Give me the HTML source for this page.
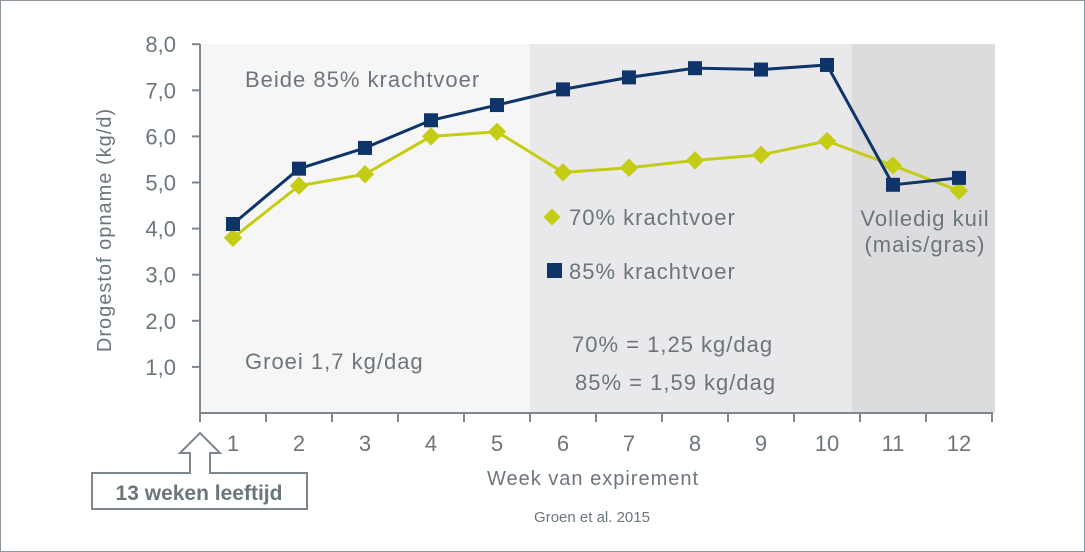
<!DOCTYPE html>
<html><head><meta charset="utf-8"><style>
body{margin:0;background:#fff}
svg{display:block;font-family:"Liberation Sans",sans-serif}
</style></head><body>
<svg width="1085" height="552" viewBox="0 0 1085 552">
<rect x="0.5" y="0.5" width="1084" height="551" fill="#fff" stroke="#8a969c"/>
<rect x="200" y="44" width="330" height="369" fill="#f6f6f7"/>
<rect x="530" y="44" width="322" height="369" fill="#e9e9eb"/>
<rect x="852" y="44" width="143" height="369" fill="#dcdcde"/>
<g id="axes" stroke="#7d878d" stroke-width="2" fill="none"></g>
<g id="ticks" fill="#6b767c" font-size="22"></g>
<g id="lines"></g>
<g font-size="22" fill="#6b767c" letter-spacing="1">
<text x="245" y="87">Beide 85% krachtvoer</text>
<text x="245" y="369">Groei 1,7 kg/dag</text>
<text x="572" y="352">70% = 1,25 kg/dag</text>
<text x="575" y="390">85% = 1,59 kg/dag</text>
<text x="925" y="226" text-anchor="middle">Volledig kuil</text>
<text x="925" y="252" text-anchor="middle">(mais/gras)</text>
</g>
<g>
<rect x="546" y="211" width="12" height="12" fill="#c5cc14" transform="rotate(45 552 217)"/>
<text x="569" y="225" font-size="22" letter-spacing="1" fill="#6b767c">70% krachtvoer</text>
<rect x="547" y="263" width="15" height="15" fill="#0e3469"/>
<text x="569" y="279" font-size="22" letter-spacing="1" fill="#6b767c">85% krachtvoer</text>
</g>
<text x="111" y="230" font-size="20" letter-spacing="1" fill="#6b767c" text-anchor="middle" transform="rotate(-90 111 230)">Drogestof opname  (kg/d)</text>
<text x="593" y="485" font-size="20" letter-spacing="1" fill="#6b767c" text-anchor="middle">Week van expirement</text>
<text x="592" y="522" font-size="15" fill="#6b767c" text-anchor="middle">Groen et al. 2015</text>
<path d="M200 433 L180 453 L190 453 L190 473 L92 473 L92 509 L307 509 L307 473 L210 473 L210 453 L220 453 Z" fill="#fff" stroke="#7d878d" stroke-width="2"/>
<text x="199" y="500" font-size="21" font-weight="bold" fill="#6b767c" text-anchor="middle">13 weken leeftijd</text>
</svg>
<script>
const weeks=[1,2,3,4,5,6,7,8,9,10,11,12];
const s85=[4.1,5.3,5.75,6.35,6.68,7.02,7.28,7.48,7.45,7.55,4.95,5.1];
const s70=[3.8,4.93,5.18,6.0,6.1,5.22,5.32,5.48,5.6,5.9,5.37,4.82];
const yTicks=[1,2,3,4,5,6,7,8];
const yLabels=["1,0","2,0","3,0","4,0","5,0","6,0","7,0","8,0"];
const NS="http://www.w3.org/2000/svg";
const X=w=>200+(w-0.5)*66;
const Y=v=>413-v*46.1;
function mk(t,a,p){const e=document.createElementNS(NS,t);for(const k in a)e.setAttribute(k,a[k]);p.appendChild(e);return e;}
const ax=document.getElementById('axes'),tk=document.getElementById('ticks'),ln=document.getElementById('lines');
let e=mk('path',{d:'M200 44 V413 H993'},ax);


yTicks.forEach((v,i)=>{
 let t=mk('line',{x1:192,x2:200,y1:Y(v),y2:Y(v)},ax);
 
 
 let l=mk('text',{x:176,y:Y(v)+8,'text-anchor':'end'},tk);l.textContent=yLabels[i];
 
 
});
for(let i=0;i<=weeks.length;i++){
 let t=mk('line',{x1:200+i*66,x2:200+i*66,y1:413,y2:422},ax);
 
 
}
weeks.forEach(w=>{
 let l=mk('text',{x:X(w),y:451,'text-anchor':'middle'},tk);l.textContent=w;
 
 
});
function series(vals,col,shape,name){
 let p=mk('polyline',{points:vals.map((v,i)=>X(weeks[i])+','+Y(v)).join(' '),fill:'none',stroke:col,'stroke-width':3},ln);
 
 
 vals.forEach((v,i)=>{
  let m;
  if(shape==='sq')m=mk('rect',{x:X(weeks[i])-7,y:Y(v)-7,width:14,height:14,fill:col},ln);
  else m=mk('rect',{x:X(weeks[i])-6.5,y:Y(v)-6.5,width:13,height:13,fill:col,transform:`rotate(45 ${X(weeks[i])} ${Y(v)})`},ln);
  
  
 });
}
series(s70,'#c5cc14','dia','series-70');
series(s85,'#0e3469','sq','series-85');
</script>
</body></html>
